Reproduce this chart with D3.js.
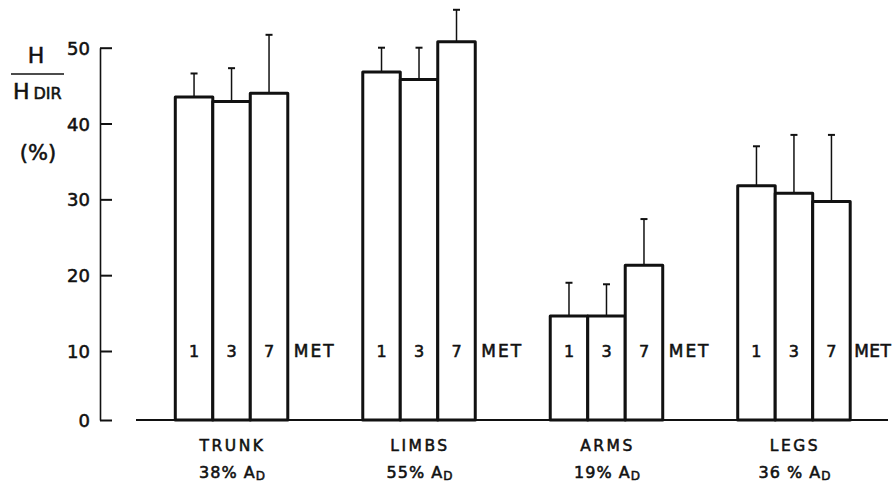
<!DOCTYPE html>
<html>
<head>
<meta charset="utf-8">
<script src="https://cdn.jsdelivr.net/npm/d3@7"></script>
<style>
  html, body { margin: 0; padding: 0; background: #fff; }
  svg { display: block; font-family: "DejaVu Sans", sans-serif; }
  svg text { stroke: #111; stroke-width: 0.55px; fill: #111; }
</style>
</head>
<body>
<svg id="chart" width="895" height="484"></svg>
<script>
// ---- data ----
const categories = ["TRUNK", "LIMBS", "ARMS", "LEGS"];
const areaPct = ["38%", "55%", "19%", "36 %"];
const metLevels = ["1", "3", "7"];
const meanValues = [
  [43.5, 42.9, 44.0],
  [46.8, 45.8, 50.8],
  [14.6, 14.6, 21.3],
  [31.8, 30.8, 29.7]
];
const errorTops = [
  [46.6, 47.3, 51.7],
  [50.0, 50.0, 55.0],
  [19.0, 18.8, 27.4],
  [37.0, 38.5, 38.5]
];
const yTicks = [0, 10, 20, 30, 40, 50];

// ---- layout ----
const svg = d3.select("#chart");
const axisX = 100;

const y = d3.scaleLinear().domain([0, 10, 50]).range([420, 351, 47.7]);

const xGroup = d3.scaleBand()
  .domain(categories)
  .range([175.3, 850.2])
  .paddingInner(0.4)
  .paddingOuter(0);

const xBar = d3.scaleBand()
  .domain(d3.range(metLevels.length))
  .range([0, xGroup.bandwidth()])
  .padding(0);

// ---- y axis ----
const yAxis = d3.axisLeft(y)
  .tickValues(yTicks)
  .tickSizeInner(-12)
  .tickSizeOuter(0)
  .tickPadding(10)
  .tickFormat(d3.format("d"));

const gy = svg.append("g")
  .attr("transform", `translate(${axisX},0)`)
  .call(yAxis);
gy.select(".domain").attr("stroke", "#111").attr("stroke-width", 1.6);
gy.selectAll(".tick line").attr("stroke", "#111").attr("stroke-width", 2);
gy.selectAll(".tick text")
  .attr("fill", "#111")
  .style("font-family", "DejaVu Sans, sans-serif")
  .style("font-size", "18px")
  .attr("dy", "0.36em");

// ---- baseline ----
svg.append("line")
  .attr("x1", 136).attr("x2", 888)
  .attr("y1", y(0)).attr("y2", y(0))
  .attr("stroke", "#111").attr("stroke-width", 1.8);

// ---- bars ----
const groups = svg.selectAll("g.grp")
  .data(categories)
  .join("g")
  .attr("class", "grp")
  .attr("transform", d => `translate(${xGroup(d)},0)`);

groups.each(function(cat, gi) {
  const g = d3.select(this);
  const vals = meanValues[gi];
  const errs = errorTops[gi];
  const isLast = gi === categories.length - 1;

  // error bars (drawn first so the bar outline covers the base)
  vals.forEach((v, i) => {
    const cx = xBar(i) + xBar.bandwidth() / 2;
    g.append("line")
      .attr("x1", cx).attr("x2", cx)
      .attr("y1", y(v)).attr("y2", y(errs[i]))
      .attr("stroke", "#111").attr("stroke-width", 1.5);
    g.append("line")
      .attr("x1", cx - 3.5).attr("x2", cx + 3.5)
      .attr("y1", y(errs[i])).attr("y2", y(errs[i]))
      .attr("stroke", "#111").attr("stroke-width", 2);
  });

  g.selectAll("rect")
    .data(vals)
    .join("rect")
    .attr("x", (d, i) => xBar(i))
    .attr("y", d => y(d))
    .attr("width", xBar.bandwidth())
    .attr("height", d => y(0) - y(d))
    .attr("fill", "#fff")
    .attr("stroke", "#111")
    .attr("stroke-width", 3)
    .attr("stroke-linejoin", "round");

  // MET level labels inside bars
  g.selectAll("text.lvl")
    .data(metLevels)
    .join("text")
    .attr("class", "lvl")
    .attr("x", (d, i) => xBar(i) + xBar.bandwidth() / 2)
    .attr("y", y(10) + 6)
    .attr("text-anchor", "middle")
    .style("font-size", "16px")
    .text(d => d);

  g.append("text")
    .attr("x", xGroup.bandwidth() + (isLast ? 4 : 6))
    .attr("y", y(10) + 6)
    .style("font-size", "17px")
    .style("letter-spacing", isLast ? "0.5px" : "2px")
    .text("MET");

  // category label
  g.append("text")
    .attr("x", xGroup.bandwidth() / 2 + 1)
    .attr("y", 451)
    .attr("text-anchor", "middle")
    .style("font-size", "15.5px")
    .style("letter-spacing", "2.5px")
    .text(cat);

  // area label with subscript D
  const t = g.append("text")
    .attr("x", xGroup.bandwidth() / 2 + 1)
    .attr("y", 478)
    .attr("text-anchor", "middle")
    .style("font-size", "16px")
    .style("letter-spacing", "1px");
  t.append("tspan").text(areaPct[gi] + " A");
  t.append("tspan")
    .attr("dy", 2)
    .style("font-size", "12px")
    .text("D");
});

// ---- y axis title: H / H_DIR (%) ----
const title = svg.append("g");
title.append("text")
  .attr("x", 36).attr("y", 63)
  .attr("text-anchor", "middle")
  .style("font-size", "22px")
  .text("H");
title.append("line")
  .attr("x1", 11).attr("x2", 64)
  .attr("y1", 74).attr("y2", 74)
  .attr("stroke", "#111").attr("stroke-width", 1.6);
const hd = title.append("text")
  .attr("x", 13).attr("y", 99)
  .style("font-size", "22px");
hd.append("tspan").text("H");
hd.append("tspan").attr("dx", 4).style("font-size", "16px").text("DIR");
title.append("text")
  .attr("x", 38).attr("y", 160)
  .attr("text-anchor", "middle")
  .style("font-size", "21px")
  .text("(%)");
</script>
</body>
</html>
